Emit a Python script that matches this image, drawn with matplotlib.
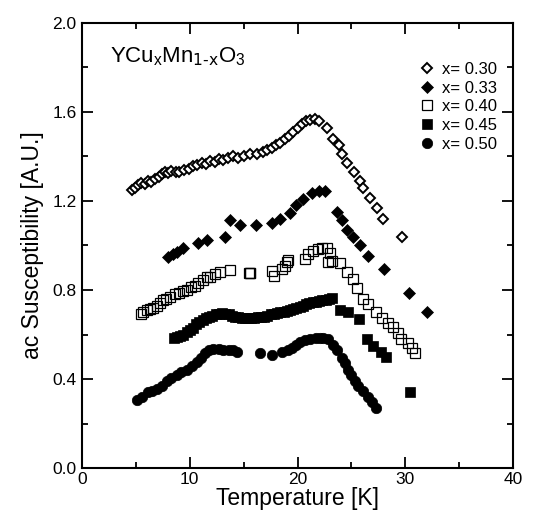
import matplotlib

matplotlib.use("Agg")
import matplotlib.pyplot as plt
from matplotlib.ticker import MultipleLocator, FormatStrFormatter

plt.rcParams["font.family"] = ["Liberation Sans Narrow", "Liberation Sans", "DejaVu Sans"]
plt.rcParams["mathtext.default"] = "regular"

# x = 0.30 (open diamonds)
t30 = [4.6, 4.9, 5.2, 5.5, 5.8, 6.1, 6.4, 6.8, 7.1, 7.4, 7.7, 8.0, 8.3, 8.7, 9.0,
       9.5, 9.9, 10.3, 10.7, 11.1, 11.5, 11.9, 12.3, 12.7, 13.1, 13.5, 14.0, 14.5,
       15.0, 15.6, 16.2, 16.8, 17.2, 17.6, 18.0, 18.4, 18.8, 19.2, 19.6, 20.0, 20.4,
       20.8, 21.2, 21.6, 22.0, 22.7, 23.3, 23.8, 24.1, 24.6, 25.2, 25.8, 26.1, 26.7,
       27.4, 27.9, 29.7]
chi30 = [1.25, 1.26, 1.27, 1.28, 1.275, 1.29, 1.285, 1.30, 1.31, 1.32, 1.33, 1.325,
         1.335, 1.33, 1.33, 1.34, 1.345, 1.355, 1.36, 1.37, 1.365, 1.38, 1.375, 1.39,
         1.385, 1.395, 1.40, 1.395, 1.40, 1.41, 1.41, 1.42, 1.43, 1.44, 1.45, 1.46,
         1.48, 1.49, 1.51, 1.53, 1.545, 1.56, 1.565, 1.57, 1.56, 1.53, 1.48, 1.45,
         1.41, 1.37, 1.33, 1.29, 1.26, 1.215, 1.17, 1.12, 1.04]

# x = 0.33 (filled diamonds)
t33 = [8.0, 8.4, 8.8, 9.4, 10.8, 11.6, 13.3, 13.7, 14.7, 16.1, 17.6, 18.4, 19.3,
       19.9, 20.5, 21.3, 22.0, 22.5, 23.7, 24.1, 24.6, 25.1, 25.8, 26.5, 28.0, 30.3, 32.0]
chi33 = [0.95, 0.96, 0.97, 0.99, 1.01, 1.025, 1.04, 1.115, 1.09, 1.09, 1.10, 1.12,
         1.145, 1.18, 1.21, 1.235, 1.245, 1.245, 1.15, 1.115, 1.07, 1.04, 1.00, 0.955,
         0.895, 0.785, 0.70]

# x = 0.40 (open squares)
t40 = [5.5, 5.7, 6.0, 6.3, 6.6, 7.0, 7.2, 7.5, 7.8, 8.2, 8.6, 9.0, 9.4, 9.7, 10.1,
       10.5, 10.8, 11.2, 11.6, 11.9, 12.3, 12.8, 13.7, 15.5, 15.55, 15.6, 17.6, 17.8,
       18.6, 18.8, 19.0, 19.1, 20.7, 21.0, 21.4, 21.9, 22.3, 22.7, 23.0, 22.8, 23.2,
       23.9, 24.6, 25.1, 25.5, 26.1, 26.5, 27.3, 27.8, 28.4, 28.9, 29.3, 29.6, 30.2,
       30.6, 30.9]
chi40 = [0.69, 0.70, 0.71, 0.715, 0.72, 0.73, 0.74, 0.755, 0.76, 0.77, 0.78, 0.785,
         0.795, 0.80, 0.815, 0.82, 0.83, 0.845, 0.86, 0.86, 0.87, 0.88, 0.89, 0.875,
         0.875, 0.875, 0.885, 0.865, 0.895, 0.91, 0.925, 0.935, 0.94, 0.96, 0.975,
         0.985, 0.99, 0.99, 0.965, 0.925, 0.93, 0.92, 0.88, 0.85, 0.81, 0.76, 0.735,
         0.70, 0.675, 0.65, 0.635, 0.605, 0.58, 0.56, 0.54, 0.515]

# x = 0.45 (filled squares)
t45 = [8.5, 8.8, 9.1, 9.4, 9.7, 10.0, 10.3, 10.6, 10.9, 11.2, 11.5, 11.8, 12.1, 12.4,
       12.7, 13.0, 13.3, 13.6, 13.9, 14.2, 14.5, 14.8, 15.1, 15.4, 15.7, 16.0, 16.3,
       16.6, 16.9, 17.2, 17.5, 17.8, 18.1, 18.4, 18.7, 19.0, 19.3, 19.6, 19.9, 20.2,
       20.5, 20.8, 21.1, 21.4, 21.7, 22.0, 22.3, 22.6, 22.9, 23.2, 23.9, 24.7, 25.7,
       26.4, 27.0, 27.7, 28.2, 30.4]
chi45 = [0.585, 0.59, 0.595, 0.60, 0.61, 0.62, 0.63, 0.645, 0.655, 0.665, 0.675, 0.68,
         0.685, 0.69, 0.69, 0.695, 0.69, 0.69, 0.685, 0.68, 0.68, 0.675, 0.675, 0.675,
         0.675, 0.675, 0.68, 0.68, 0.68, 0.685, 0.69, 0.69, 0.695, 0.70, 0.70, 0.705,
         0.71, 0.715, 0.72, 0.725, 0.73, 0.735, 0.74, 0.745, 0.745, 0.75, 0.755, 0.755,
         0.76, 0.765, 0.71, 0.70, 0.67, 0.58, 0.55, 0.52, 0.50, 0.34]

# x = 0.50 (filled circles)
t50 = [5.1, 5.6, 6.1, 6.5, 7.0, 7.4, 7.9, 8.3, 8.8, 9.2, 9.7, 10.2, 10.7, 11.0, 11.4,
       11.8, 12.2, 12.7, 13.1, 13.6, 14.0, 14.4, 16.5, 17.6, 18.6, 19.1, 19.5, 19.9,
       20.2, 20.7, 21.2, 21.7, 22.1, 22.4, 22.8, 23.3, 23.7, 24.1, 24.4, 24.7, 25.0,
       25.3, 25.6, 26.1, 26.5, 26.9, 27.3]
chi50 = [0.305, 0.32, 0.34, 0.345, 0.355, 0.37, 0.39, 0.405, 0.42, 0.43, 0.44, 0.46,
         0.475, 0.495, 0.515, 0.53, 0.535, 0.535, 0.53, 0.53, 0.53, 0.52, 0.515, 0.51,
         0.52, 0.53, 0.54, 0.555, 0.565, 0.575, 0.58, 0.585, 0.585, 0.585, 0.58, 0.555,
         0.53, 0.495, 0.47, 0.44, 0.42, 0.39, 0.37, 0.345, 0.32, 0.295, 0.27]

labels = ["x= 0.30", "x= 0.33", "x= 0.40", "x= 0.45", "x= 0.50"]

fig = plt.figure(figsize=(5.43, 5.22), dpi=100)
ax = fig.add_axes([0.151, 0.1034, 0.794, 0.8526])

ax.plot(t30, chi30, ls="none", marker="D", ms=5, mfc="white", mec="black", mew=1.4, label=labels[0])
ax.plot(t33, chi33, ls="none", marker="D", ms=6, mfc="black", mec="black", mew=0.5, label=labels[1])
ax.plot(t40, chi40, ls="none", marker="s", ms=7, mfc="none", mec="black", mew=0.9, label=labels[2])
ax.plot(t45, chi45, ls="none", marker="s", ms=7, mfc="black", mec="black", mew=0.5, label=labels[3])
ax.plot(t50, chi50, ls="none", marker="o", ms=7.5, mfc="black", mec="black", mew=0.5, label=labels[4])

ax.set_xlim(0, 40)
ax.set_ylim(0, 2.0)
ax.xaxis.set_major_locator(MultipleLocator(10))
ax.xaxis.set_minor_locator(MultipleLocator(5))
ax.yaxis.set_major_locator(MultipleLocator(0.4))
ax.yaxis.set_minor_locator(MultipleLocator(0.2))
ax.yaxis.set_major_formatter(FormatStrFormatter("%.1f"))
ax.tick_params(which="both", direction="in", top=True, right=True, labelsize=12.5, width=1.3)
ax.tick_params(which="major", length=8)
ax.tick_params(axis="x", which="major", pad=3)
ax.tick_params(axis="y", which="major", pad=4)
ax.tick_params(which="minor", length=4.5)
for s in ax.spines.values():
    s.set_linewidth(1.5)

ax.set_xlabel("Temperature [K]", fontsize=16.5, labelpad=0)
ax.set_ylabel("ac Susceptibility [A.U.]", fontsize=16.5, labelpad=6)

ax.text(0.065, 0.925, r"YCu$_x$Mn$_{\text{1-x}}$O$_3$", transform=ax.transAxes, fontsize=16,
        va="center", ha="left")

ax.legend(loc="upper right", bbox_to_anchor=(0.985, 0.935), frameon=False, fontsize=12,
          handlelength=0.8, handletextpad=0.5, labelspacing=0.22, borderaxespad=0.2)

fig.savefig("out.png", dpi=100)
